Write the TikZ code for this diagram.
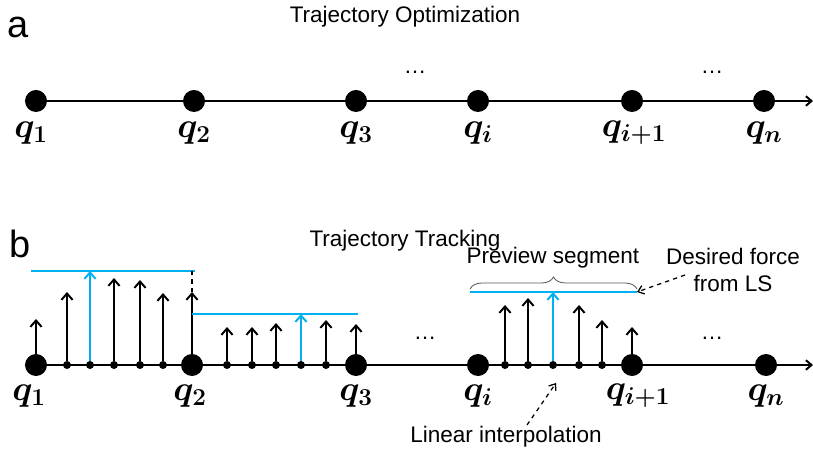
\documentclass[tikz,border=0pt]{standalone}
\usepackage{amsmath}
\usepackage{bm}
\usepackage{fontspec}
\setmainfont{Liberation Sans}
\usetikzlibrary{
    arrows.meta,
    decorations.pathreplacing,
    positioning
}
\definecolor{lsblue}{RGB}{0,176,240}

\begin{document}
\begin{tikzpicture}[x=0.025cm, y=-0.025cm,
        bigdot/.style={circle, fill=black, inner sep=0pt, minimum size=0.55cm},
        smalldot/.style={circle, fill=black, inner sep=0pt, minimum size=0.2cm},
        axis/.style={line width=1.4pt, -{Straight Barb[length=0.14cm, width=0.24cm]}},
        force/.style={line width=1.4pt, -{Straight Barb[length=0.16cm, width=0.28cm]}},
        desired/.style={draw=lsblue, line width=2.1pt},
        hint/.style={dashed, line width=0.9pt, -{Straight Barb[length=0.14cm, width=0.22cm]}},
        qlabel/.style={font=\fontsize{23}{27}\selectfont, inner sep=0pt},
        txt/.style={font=\fontsize{16}{19}\selectfont, inner sep=1pt},
        panel/.style={font=\fontsize{27}{30}\selectfont, inner sep=0pt}]
    \useasboundingbox (0, 0) rectangle (813, 457);
    \node[panel, anchor=base] (pa) at (18, 38) {a};
    \node[txt] (ta) at (405, 17) {Trajectory Optimization};
    \foreach \n/\x/\lx/\l in {1/36/31/1, 2/194/194/2, 3/356/356/3, i/478/478/i, j/632/634/i+1, n/764/764/n} {
        \node[bigdot] (a\n) at (\x, 101) {};
        \node[qlabel] (la\n) at (\lx, 133) {$\bm{q_{\l}}$};
    }
    \coordinate (aend) at (813, 101);
    \draw[axis] (a1) -- (aend);
    \node[txt] (da1) at (415, 72) {\dots};
    \node[txt] (da2) at (712, 72) {\dots};
    \node[panel, anchor=base] (pb) at (20, 258) {b};
    \node[txt] (tb) at (405, 241) {Trajectory Tracking};
    \foreach \n/\x/\lx/\l in {1/36/29/1, 2/192/190/2, 3/356/356/3, i/478/478/i, j/632/638/i+1, n/766/766/n} {
        \node[bigdot] (b\n) at (\x, 365) {};
        \node[qlabel] (lb\n) at (\lx, 396) {$\bm{q_{\l}}$};
    }
    \coordinate (bend) at (813, 365);
    \draw[axis] (b1) -- (bend);
    \foreach \n/\x/\h/\c in {1/67/292/black, 2/90/271/lsblue, 3/114/278/black, 4/140/280/black,
            5/163/293/black, 6/227/327/black, 7/252/327/black, 8/276/323/black, 9/301/314/lsblue,
            10/326/320/black, 11/505/305/black, 12/528/298/black, 13/553/292/lsblue,
            14/579/305/black, 15/602/320/black} {
        \node[smalldot] (s\n) at (\x, 365) {};
        \coordinate (t\n) at (\x, \h);
        \draw[force, \c] (s\n) -- (t\n);
    }
    \foreach \n/\h in {1/319, 2/292, 3/324, j/327} {
        \path (b\n.center) ++(0, -365) ++(0, \h) coordinate (tb\n);
        \draw[force] (b\n) -- (tb\n);
    }
    \coordinate (l1a) at (31, 271);
    \coordinate (l1b) at (195, 271);
    \coordinate (l2a) at (192, 314);
    \coordinate (l2b) at (358, 314);
    \coordinate (l3a) at (470, 292);
    \coordinate (l3b) at (637, 292);
    \draw[desired] (l1a) -- (l1b);
    \draw[desired] (l2a) -- (l2b);
    \draw[desired] (l3a) -- (l3b);
    \draw[dashed, line width=0.8pt] (tb2) -- (192, 271);
    \draw[decorate, decoration={brace, amplitude=0.3cm}, line width=0.6pt, black!65]
        (470, 289) -- (637, 289);
    \node[txt] (ps) at (553, 258) {Preview segment};
    \node[txt, align=center] (df) at (733, 270) {Desired force\\from LS};
    \coordinate (dtail) at (685, 275);
    \draw[hint] (dtail) -- (l3b);
    \node[txt] (li) at (506, 437) {Linear interpolation};
    \coordinate (ltail) at (527, 425);
    \coordinate (lhead) at (556, 383);
    \draw[hint] (ltail) -- (lhead);
    \node[txt] (db1) at (425, 338) {\dots};
    \node[txt] (db2) at (712, 338) {\dots};
\end{tikzpicture}
\end{document}
